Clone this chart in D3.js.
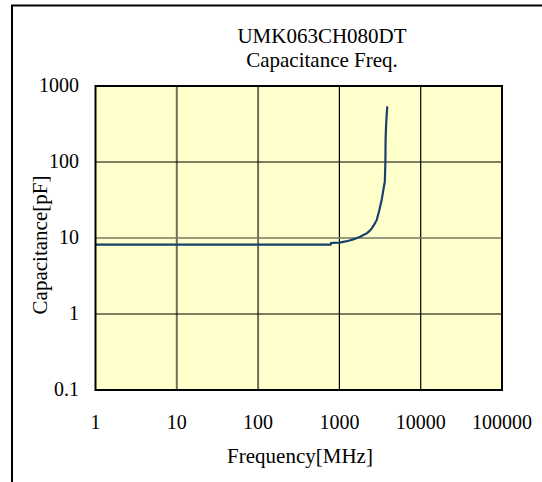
<!DOCTYPE html>
<html>
<head>
<meta charset="UTF-8">
<script src="https://d3js.org/d3.v7.min.js"></script>
<style>
  body { margin: 0; background: #fff; }
  svg { display: block; font-family: "Liberation Serif", "Times New Roman", serif; }
</style>
</head>
<body>
<svg width="542" height="482"></svg>
<script>
// data
const titleLines = ["UMK063CH080DT", "Capacitance Freq."];
const xTicks = [1, 10, 100, 1000, 10000, 100000];
const yTicks = [0.1, 1, 10, 100, 1000];
const yTickLabels = ["0.1", "1", "10", "100", "1000"];
const freqMHz = [1, 780, 790, 1000, 1120, 1300, 1480, 1650, 1800, 2000, 2170, 2350, 2500, 2700, 2880, 3100, 3310, 3470, 3620, 3680, 3700, 3760, 3850, 3880];
const capPF   = [8.2, 8.2, 8.6, 8.7, 8.9, 9.2, 9.6, 10.0, 10.4, 11.0, 11.5, 12.4, 13.4, 15.2, 17.3, 23.4, 31.6, 42.8, 55, 100, 200, 320, 480, 540];

const svg = d3.select("svg");
const pl = 95.5, pr = 502, pt = 86, pb = 390;

// outer frame
svg.append("rect")
  .attr("x", 12).attr("y", 5.5).attr("width", 545).attr("height", 500)
  .attr("fill", "none").attr("stroke", "#000").attr("stroke-width", 2);

const x = d3.scaleLog().domain([1, 100000]).range([pl, pr]);
const y = d3.scaleLog().domain([0.1, 1000]).range([pb, pt]);

svg.append("rect")
  .attr("x", pl).attr("y", pt).attr("width", pr - pl).attr("height", pb - pt)
  .attr("fill", "#ffffcc");

// grid (some lines look softer in the original)
const softX = [10, 100], softY = [10];
svg.append("g").selectAll("line").data(xTicks.slice(1, -1)).join("line")
  .attr("x1", d => x(d)).attr("x2", d => x(d)).attr("y1", pt).attr("y2", pb)
  .attr("stroke", d => softX.includes(d) ? "#6e6e55" : "#000")
  .attr("stroke-width", d => softX.includes(d) ? 2 : 1.2);
svg.append("g").selectAll("line").data(yTicks.slice(1, -1)).join("line")
  .attr("x1", pl).attr("x2", pr).attr("y1", d => y(d)).attr("y2", d => y(d))
  .attr("stroke", d => softY.includes(d) ? "#777766" : "#000")
  .attr("stroke-width", d => softY.includes(d) ? 1.6 : 1.2);

// curve
const pts = freqMHz.map((f, i) => [f, capPF[i]]);
svg.append("path")
  .attr("d", d3.line().x(d => x(d[0])).y(d => y(d[1]))(pts))
  .attr("fill", "none").attr("stroke", "#17406d").attr("stroke-width", 2.2);

svg.append("rect")
  .attr("x", pl).attr("y", pt).attr("width", pr - pl).attr("height", pb - pt)
  .attr("fill", "none").attr("stroke", "#000").attr("stroke-width", 2);

// tick labels
svg.append("g").selectAll("text").data(xTicks).join("text")
  .attr("x", d => x(d)).attr("y", 429)
  .attr("text-anchor", "middle").attr("font-size", 20)
  .text(d => d);
svg.append("g").selectAll("text").data(yTicks).join("text")
  .attr("x", 79).attr("y", d => y(d)).attr("dy", "0.3em")
  .attr("text-anchor", "end").attr("font-size", 20)
  .text((d, i) => yTickLabels[i]);

// titles
svg.append("g").selectAll("text").data(titleLines).join("text")
  .attr("x", 322).attr("y", (d, i) => 43 + i * 24)
  .attr("text-anchor", "middle").attr("font-size", 21)
  .text(d => d);

svg.append("text")
  .attr("x", 300).attr("y", 463)
  .attr("text-anchor", "middle").attr("font-size", 21)
  .text("Frequency[MHz]");

svg.append("text")
  .attr("transform", "translate(47,245) rotate(-90)")
  .attr("text-anchor", "middle").attr("font-size", 21)
  .text("Capacitance[pF]");
</script>
</body>
</html>
